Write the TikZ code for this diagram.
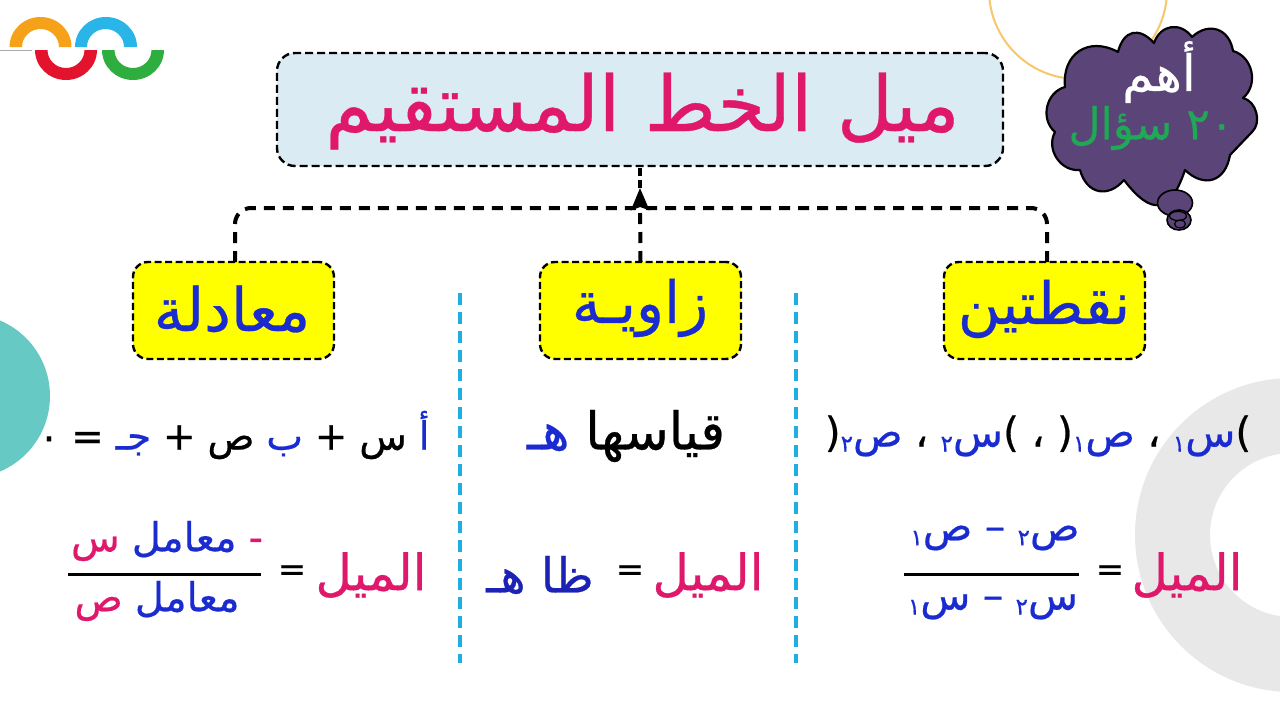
\documentclass[tikz,border=0pt]{standalone}
\usepackage{fontspec}
\usetikzlibrary{arrows.meta,shapes.geometric}
\TeXXeTstate=1
\newfontfamily\arabicfont[Script=Arabic,FakeBold=0.5]{DejaVu Sans}
\definecolor{pinkt}{HTML}{E0186C}
\definecolor{bluet}{HTML}{1A2BD0}
\definecolor{navyt}{HTML}{1C22B4}
\definecolor{cloudp}{HTML}{5B4478}
\definecolor{greent}{HTML}{1FA855}
\definecolor{sky}{HTML}{DAEBF3}
\definecolor{sep}{HTML}{1FAEE0}
\definecolor{yelt}{HTML}{FFFF00}
\newcommand{\AR}[1]{\arabicfont\beginR #1\endR}
% each coloured piece is its own run; lines are composed from left to right as seen
\newcommand{\SEG}[2]{\textcolor{#1}{\hbox{\arabicfont\beginR #2\endR}}}
\newcommand{\PAREN}[1]{\textcolor{black}{\hbox{\arabicfont #1}}}
\newcommand{\SUBD}[1]{\textcolor{bluet}{\lower5pt\hbox{\fontsize{23}{26}\selectfont\arabicfont\beginR #1\endR}}}
\tikzset{
 txt/.style={inner sep=0pt,outer sep=0pt,font=\fontsize{#1}{#1}\selectfont},
 titlebox/.style={draw=black,fill=sky,line width=2.4pt,dash pattern=on 8pt off 4pt,rounded corners=18pt,minimum width=726pt,minimum height=113pt,inner sep=0pt,outer sep=0pt},
 yelbox/.style={draw=black,fill=yelt,line width=2.4pt,dash pattern=on 7pt off 3.5pt,rounded corners=15pt,minimum width=201pt,minimum height=97pt,inner sep=0pt,outer sep=0pt},
 conn/.style={draw=black,line width=4pt,dash pattern=on 11pt off 8pt},
 sepl/.style={draw=sep,line width=4pt,dash pattern=on 12pt off 7pt},
 bar/.style={draw=black,line width=3pt}
}
\begin{document}
\begin{tikzpicture}[x=1pt,y=-1pt]
\useasboundingbox (0,0) rectangle (1280,720);
\fill[white] (0,0) rectangle (1280,720);
\begin{scope}
\clip (0,0) rectangle (1280,720);
\fill[color=black!9,even odd rule] (1292,535) circle (157) (1292,535) circle (82);
\fill[color={rgb,255:red,102;green,201;blue,196}] (-32,396) circle (82);
\draw[color={rgb,255:red,248;green,198;blue,107},line width=2pt] (1078,-10) circle (89);
\end{scope}
% logo
\draw[color={rgb,255:red,170;green,170;blue,170},line width=1.6pt] (0,50.5) -- (32,50.5);
\fill[color={rgb,255:red,245;green,161;blue,26}] (9.5,47) arc (180:0:31 and -30) -- (59,47) arc (0:180:18.5 and -18) -- cycle;
\fill[color={rgb,255:red,41;green,181;blue,232}] (75,47) arc (180:0:31 and -30) -- (124,47) arc (0:180:18.5 and -18) -- cycle;
\fill[color={rgb,255:red,227;green,18;blue,45}] (35,50) arc (180:360:31 and -30) -- (84.5,50) arc (360:180:18.5 and -18) -- cycle;
\fill[color={rgb,255:red,45;green,174;blue,63}] (102,50) arc (180:360:31 and -30) -- (151.5,50) arc (360:180:18.5 and -18) -- cycle;
% cloud
\draw[fill=cloudp,draw=black,line width=2.2pt,line join=round]
 (1118,52) to[bend left=62,looseness=1.55] (1154,43) to[bend left=62,looseness=1.3] (1192,37) to[bend left=62,looseness=1.35] (1233,51)
 to[bend left=62,looseness=1.1] (1243,98) to[bend left=62,looseness=1.0] (1252,132) -- (1230,155)
 to[bend left=62,looseness=1.45] (1185,170) to[bend left=62,looseness=1.9] (1124,180) to[bend left=62,looseness=1.4] (1080,170)
 to[bend left=62,looseness=1.1] (1055,132) to[bend left=62,looseness=1.1] (1065,87) to[bend left=62,looseness=1.35] cycle;
\node[ellipse,draw=black,fill=cloudp,line width=1.6pt,minimum width=35pt,minimum height=26pt,inner sep=0pt] (bub1) at (1175,203) {};
\node[ellipse,draw=black,fill=cloudp,line width=1.6pt,minimum width=24pt,minimum height=20pt,inner sep=0pt] (bub2) at (1179,220) {};
\node[ellipse,draw=black,line width=1.2pt,minimum width=17pt,minimum height=9pt,inner sep=0pt] (bub3) at (1178,216) {};
\node[ellipse,draw=black,line width=1.2pt,minimum width=11pt,minimum height=8pt,inner sep=0pt] (bub4) at (1180,224) {};
\node[txt=50,text=white] (c1) at (1159,72) {\AR{أهم}};
\node[txt=44,text=greent] (c2) at (1151,128) {\AR{\beginL ٢٠\endL{} سؤال}};
% boxes
\node[titlebox] (title) at (640,109.5) {};
\node[txt=77,text=pinkt] (titletxt) at (642.5,111) {\AR{ميل الخط المستقيم}};
\node[yelbox] (left) at (233.5,310.5) {};
\node[yelbox] (mid) at (640.5,310.5) {};
\node[yelbox] (right) at (1044.5,310.5) {};
\node[txt=60,text=bluet] (ltxt) at (232,309) {\AR{معادلة}};
\node[txt=58,text=bluet] (mtxt) at (640,308) {\AR{زاويـة}};
\node[txt=58,text=bluet] (rtxt) at (1044,309) {\AR{نقطتين}};
% connectors
\coordinate (junction) at (640,208);
\coordinate (tip) at (640,188);
\draw[conn,rounded corners=16pt] (left.north) ++(1.5,0) -- ++(0,-54) -- (junction);
\draw[conn,rounded corners=16pt] (right.north) ++(2.5,0) -- ++(0,-54) -- (junction);
\draw[conn,-{Stealth[length=22pt,width=18pt,inset=3pt]}] (mid.north) -- (tip);
\draw[draw=black,line width=4pt,dash pattern=on 8pt off 4pt] (tip) -- (title.south);
% separators
\coordinate (s1t) at (460,293); \coordinate (s1b) at (460,663);
\coordinate (s2t) at (796,293); \coordinate (s2b) at (796,663);
\draw[sepl] (s1t) -- (s1b);
\draw[sepl] (s2t) -- (s2b);
% right column
\node[txt=41] (r1) at (1038,436) {\PAREN{(}\SUBD{٢}\SEG{bluet}{ص} \SEG{black}{،} \SUBD{٢}\SEG{bluet}{س}\PAREN{)} \SEG{black}{،} \PAREN{(}\SUBD{١}\SEG{bluet}{ص} \SEG{black}{،} \SUBD{١}\SEG{bluet}{س}\PAREN{)}};
\node[txt=50,text=pinkt] (r2) at (1187,575) {\AR{الميل}};
\node[txt=34] (r3) at (1110,573) {\PAREN{=}};
\coordinate (rb1) at (904,574); \coordinate (rb2) at (1079,574);
\draw[bar] (rb1) -- (rb2);
\node[txt=41] (r4) at (995,538) {\SUBD{١}\SEG{bluet}{ص} \SEG{bluet}{–} \SUBD{٢}\SEG{bluet}{ص}};
\node[txt=41] (r5) at (993,607) {\SUBD{١}\SEG{bluet}{س} \SEG{bluet}{–} \SUBD{٢}\SEG{bluet}{س}};
% middle column
\node[txt=52] (m1) at (626,436) {\SEG{bluet}{هـ} \SEG{black}{قياسها}};
\node[txt=50,text=pinkt] (m2) at (708,575) {\AR{الميل}};
\node[txt=34] (m3) at (630,573) {\PAREN{=}};
\node[txt=48,text=navyt] (m4) at (540,575) {\AR{ظا هـ}};
% left column
\node[txt=39] (l1) at (234,435) {\SEG{black}{٠} \SEG{black}{=} \SEG{bluet}{جـ} \SEG{black}{+} \SEG{black}{ص} \SEG{bluet}{ب} \SEG{black}{+} \SEG{black}{س} \SEG{bluet}{أ}};
\node[txt=50,text=pinkt] (l2) at (371,575) {\AR{الميل}};
\node[txt=34] (l3) at (292,573) {\PAREN{=}};
\coordinate (lb1) at (68,574); \coordinate (lb2) at (261,574);
\draw[bar] (lb1) -- (lb2);
\node[txt=40] (l4) at (167,541) {\SEG{pinkt}{س} \SEG{bluet}{معامل} \SEG{pinkt}{-}};
\node[txt=40] (l5) at (157,601) {\SEG{pinkt}{ص} \SEG{bluet}{معامل}};
\end{tikzpicture}
\end{document}
